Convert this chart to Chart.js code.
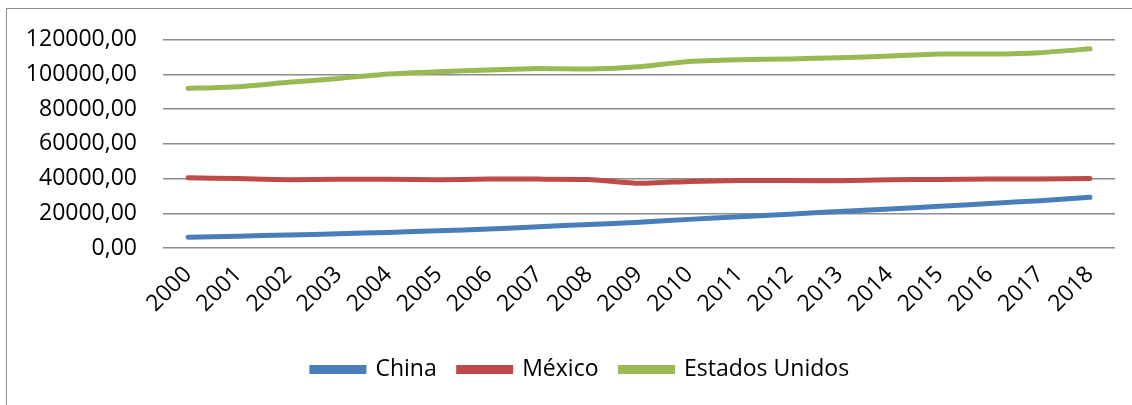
<!DOCTYPE html>
<html>
<head>
<meta charset="utf-8">
<script src="https://cdn.jsdelivr.net/npm/chart.js@4"></script>
<style>
  html, body { margin: 0; padding: 0; background: #fff; }
  #wrap { position: relative; width: 1132px; height: 405px; overflow: hidden; }
  #frame { position: absolute; left: 6px; top: 8px; width: 1140px; height: 420px; border: 1px solid #8c8c8c; box-sizing: border-box; }
  canvas { position: absolute; left: 0; top: 0; }
</style>
</head>
<body>
<div id="wrap">
  <div id="frame"></div>
  <canvas id="mainChart" width="1132" height="405"></canvas>
</div>
<script>
const $ = (s) => document.querySelector(s);

const years = ["2000", "2001", "2002", "2003", "2004", "2005", "2006", "2007", "2008", "2009",
  "2010", "2011", "2012", "2013", "2014", "2015", "2016", "2017", "2018"];
const china = [6200, 6800, 7500, 8200, 9000, 9900, 10900, 12300, 13500, 14800,
  16500, 18000, 19500, 21000, 22500, 24000, 25700, 27300, 29200];
const mexico = [40500, 40000, 39300, 39600, 39600, 39400, 39700, 39700, 39500, 37300,
  38400, 38900, 38900, 38700, 39300, 39500, 39700, 39800, 40000];
const usa = [92000, 93000, 95500, 97700, 100300, 101600, 102600, 103500, 103200, 104500,
  107500, 108500, 109000, 109700, 110600, 111800, 111800, 112600, 114800];

const font = "'Open Sans', 'Liberation Sans', sans-serif";

function fmtNum(v) {
  return Number(v).toFixed(2).replace(".", ",");
}

function series(label, data, color) {
  return {
    label,
    data,
    borderColor: color,
    backgroundColor: color,
    borderWidth: 5,
    pointRadius: 0,
    tension: 0.15,
    borderCapStyle: "round",
  };
}

// nudge the legend a bit right, the original is not centred on the canvas
const legendShift = {
  id: "legendShift",
  afterLayout(chart) {
    chart.legend.left += 23;
    chart.legend.right += 23;
  },
};

new Chart($("#mainChart"), {
  type: "line",
  data: {
    labels: years,
    datasets: [
      series("China", china, "#4a7ebb"),
      series("México", mexico, "#be4b48"),
      series("Estados Unidos", usa, "#98b954"),
    ],
  },
  plugins: [legendShift],
  options: {
    responsive: false,
    animation: false,
    layout: { padding: { top: 38, right: 17, left: 0, bottom: 14 } },
    plugins: {
      tooltip: { enabled: false },
      legend: {
        position: "bottom",
        labels: {
          color: "#000",
          font: { family: font, size: 23 },
          boxWidth: 52,
          boxHeight: 4,
          padding: 22,
        },
      },
    },
    scales: {
      x: {
        offset: true,
        grid: { display: false },
        border: { display: false },
        ticks: {
          color: "#000",
          font: { family: font, size: 23 },
          maxRotation: 45,
          minRotation: 45,
          autoSkip: false,
          padding: 5,
        },
        afterFit: (s) => { s.height = 88; },
      },
      y: {
        min: 0,
        max: 120000,
        border: { display: false },
        grid: { color: "#8c8c8c", lineWidth: 1.5, drawTicks: false },
        ticks: {
          stepSize: 20000,
          color: "#000",
          font: { family: font, size: 23 },
          padding: 26,
          callback: (v) => fmtNum(v),
        },
        afterFit: (s) => { s.width = 163; },
      },
    },
  },
});
</script>
</body>
</html>
